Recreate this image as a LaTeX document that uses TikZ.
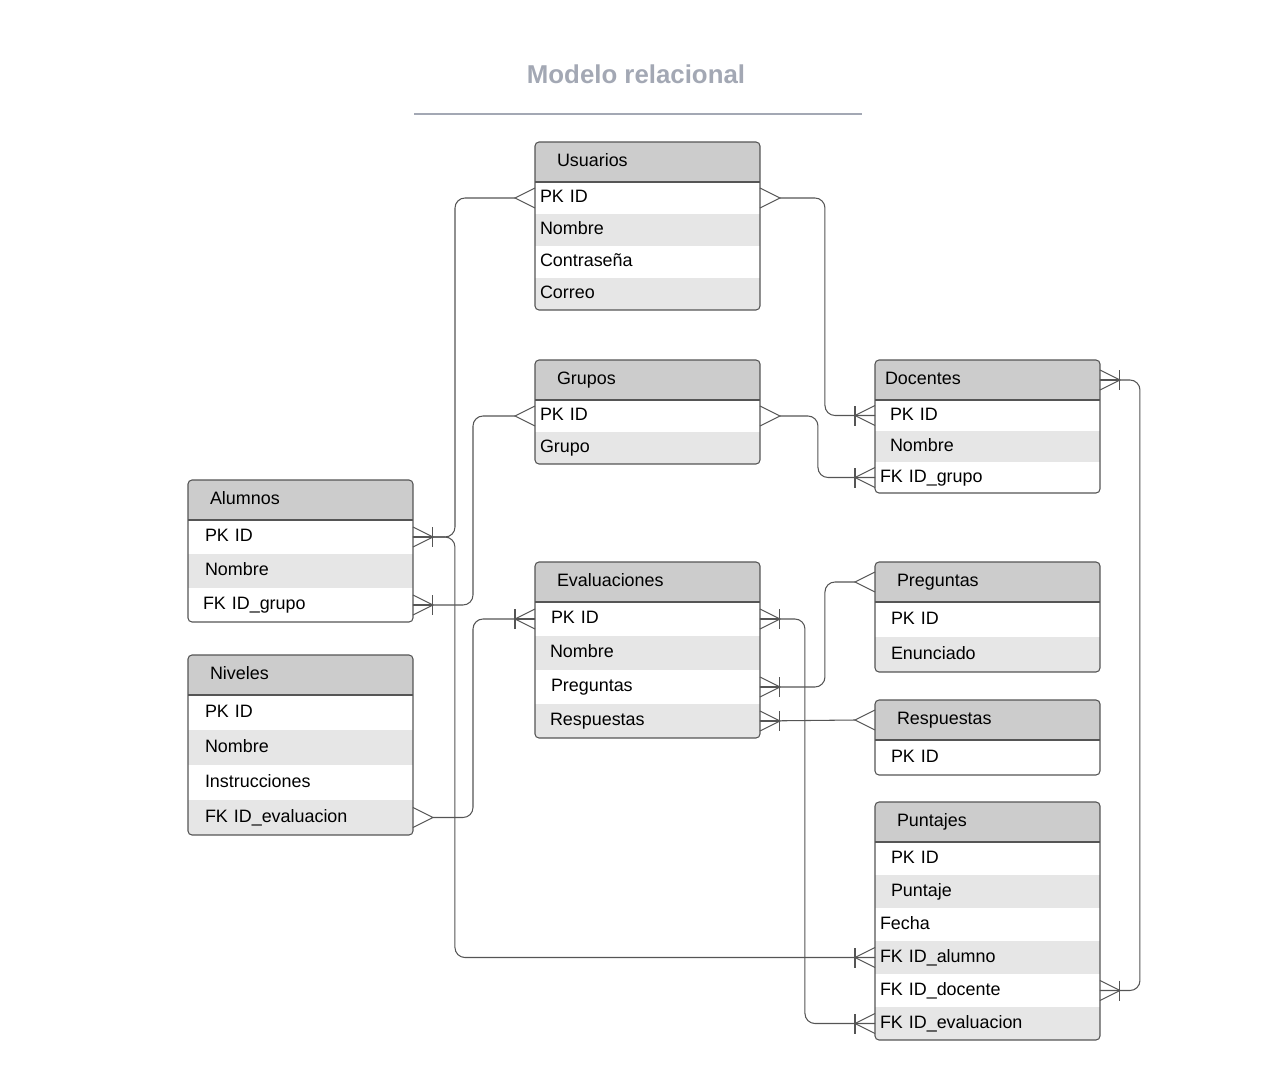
\documentclass[tikz,border=0pt]{standalone}
\usepackage{fontspec}
\setmainfont{Liberation Sans}
\usepackage{tikz}

\definecolor{headgrey}{RGB}{204,204,204}
\definecolor{rowgrey}{RGB}{230,230,230}
\definecolor{edgegrey}{RGB}{85,85,85}
\definecolor{titlegrey}{RGB}{163,168,180}

\newlength\pxunit
\setlength\pxunit{0.02cm}
\newcount\nrows

% table: name, x, y (top), title indent, title, row height, rows (text/indent)
\newcommand{\entity}[7]{%
  \global\nrows=0
  \foreach \entrow in {#7} {\global\advance\nrows by 1}
  \pgfmathsetmacro\entbot{#3+40+\the\nrows*#6}
  \begin{scope}
    \clip[rounded corners=0.08cm] (#2,#3) rectangle (#2+225,\entbot);
    \node[head] (#1) at (#2,#3) {\hspace*{#4\pxunit}#5};
    \foreach \txt/\pad [count=\i] in {#7} {
      \pgfmathsetmacro\rowy{#3+40+(\i-1)*#6}
      \ifodd\i \def\rowfill{white}\else \def\rowfill{rowgrey}\fi
      \node[attr, fill=\rowfill, minimum height=#6*\pxunit] (#1-\i) at (#2,\rowy) {\hspace*{\pad\pxunit}\txt};
    }
  \end{scope}
  \draw[frame] (#1.south west) -- (#1.south east);
  \draw[frame, rounded corners=0.08cm] (#2,#3) rectangle (#2+225,\entbot);
}

\begin{document}
\begin{tikzpicture}[x=0.02cm, y=-0.02cm, font=\fontsize{10.2pt}{12pt}\selectfont]
    \useasboundingbox (0,0) rectangle (1267,1081);

    % --- DEFINE STYLES ---
    % Style for table headers
    \tikzstyle{head} = [anchor=north west, inner xsep=0pt, inner ysep=0pt, outer sep=0pt, text width=4.5cm, align=left, minimum height=40*\pxunit, text height=5.5pt, text depth=0pt, fill=headgrey]
    % Style for attribute rows
    \tikzstyle{attr} = [head, fill=white]
    % Style for table borders
    \tikzstyle{frame} = [draw=edgegrey, line width=0.6pt]
    % Style for relations
    \tikzstyle{conn} = [draw=edgegrey, line width=0.6pt, rounded corners=0.2cm]
    \tikzstyle{foot} = [draw=edgegrey, line width=0.6pt]
    \tikzset{
      many/.pic={\draw[foot] (0,10) -- (20,0) -- (0,-10);},
      onemany/.pic={\draw[foot] (0,10) -- (20,0) -- (0,-10); \draw[foot] (0,0) -- (20,0); \draw[foot] (20,-10) -- (20,10);}
    }

    % Title
    \node[font=\fontsize{14.7pt}{17pt}\selectfont\bfseries, text=titlegrey] (title) at (636,74) {Modelo relacional};
    \draw[titlegrey, line width=1.1pt] (414,114) -- (862,114);

    % --- TABLES ---
    \entity{usu}{535}{142}{22}{Usuarios}{32}{PK ID/5, Nombre/5, Contraseña/5, Correo/5}
    \entity{gru}{535}{360}{22}{Grupos}{32}{PK ID/5, Grupo/5}
    \entity{doc}{875}{360}{10}{Docentes}{31}{PK ID/15, Nombre/15, FK ID\_grupo/5}
    \entity{alu}{188}{480}{22}{Alumnos}{34}{PK ID/17, Nombre/17, FK ID\_grupo/15}
    \entity{niv}{188}{655}{22}{Niveles}{35}{PK ID/17, Nombre/17, Instrucciones/17, FK ID\_evaluacion/17}
    \entity{eva}{535}{562}{22}{Evaluaciones}{34}{PK ID/16, Nombre/15, Preguntas/16, Respuestas/15}
    \entity{pre}{875}{562}{22}{Preguntas}{35}{PK ID/16, Enunciado/16}
    \entity{res}{875}{700}{22}{Respuestas}{35}{PK ID/16}
    \entity{pun}{875}{802}{22}{Puntajes}{33}{PK ID/16, Puntaje/16, Fecha/5, FK ID\_alumno/5, FK ID\_docente/5, FK ID\_evaluacion/5}

    % --- RELATIONS ---
    \draw[conn] (usu-1.west) ++(-20,0) -- ++(-60,0) |- (alu-1.east);
    \draw[conn] (usu-1.east) ++(20,0) -- ++(45,0) |- (doc-1.west);
    \draw[conn] (gru-1.west) ++(-20,0) -- ++(-42,0) |- (alu-3.east);
    \draw[conn] (gru-1.east) ++(20,0) -- ++(38,0) |- (doc-3.west);
    \draw[conn] (doc.east) -- ++(40,0) |- (pun-5.east);
    \draw[conn] (alu-1.east) -- ++(42,0) |- (pun-4.west);
    \draw[conn] (eva-1.west) -- ++(-62,0) |- ([xshift=0.4cm]niv-4.east);
    \draw[conn] (eva-1.east) -- ++(45,0) |- (pun-6.west);
    \draw[conn] (eva-3.east) -- ++(65,0) |- ([xshift=-0.4cm]pre.west);
    \draw[conn] (eva-4.east) -- ([xshift=-0.4cm]res.west);

    % Crow's feet at the table edges
    \pic[rotate=180] at (usu-1.west) {many};
    \pic at (usu-1.east) {many};
    \pic[rotate=180] at (gru-1.west) {many};
    \pic at (gru-1.east) {many};
    \pic at (alu-1.east) {onemany};
    \pic at (alu-3.east) {onemany};
    \pic at (niv-4.east) {many};
    \pic[rotate=180] at (doc-1.west) {onemany};
    \pic[rotate=180] at (doc-3.west) {onemany};
    \pic at (doc.east) {onemany};
    \pic[rotate=180] at (eva-1.west) {onemany};
    \pic at (eva-1.east) {onemany};
    \pic at (eva-3.east) {onemany};
    \pic at (eva-4.east) {onemany};
    \pic[rotate=180] at (pre.west) {many};
    \pic[rotate=180] at (res.west) {many};
    \pic[rotate=180] at (pun-4.west) {onemany};
    \pic[rotate=180] at (pun-6.west) {onemany};
    \pic at (pun-5.east) {onemany};
\end{tikzpicture}
\end{document}
